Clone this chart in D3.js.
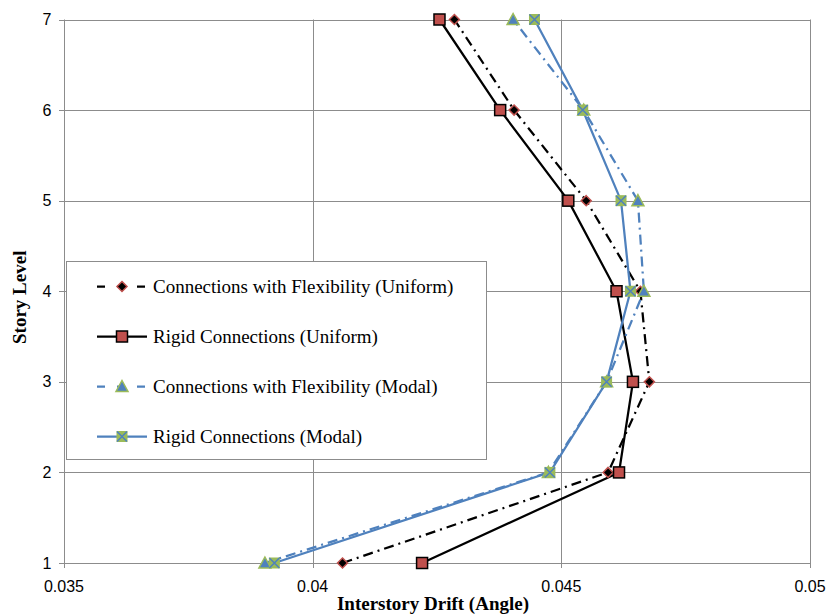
<!DOCTYPE html>
<html>
<head>
<meta charset="utf-8">
<script src="https://cdn.jsdelivr.net/npm/d3@7"></script>
<style>
  body { margin: 0; background: #fff; }
  svg { display: block; }
</style>
</head>
<body>
<div id="chart"></div>
<script>
// story levels and drifts
const stories = [1, 2, 3, 4, 5, 6, 7];
const flexUniform = [0.0406, 0.04594, 0.04677, 0.04659, 0.0455, 0.04405, 0.04285];
const rigidUniform = [0.0422, 0.04616, 0.04644, 0.04611, 0.04514, 0.04377, 0.04255];
const flexModal = [0.03904, 0.04474, 0.04591, 0.04666, 0.04654, 0.04545, 0.04403];
const rigidModal = [0.03923, 0.04477, 0.04591, 0.04639, 0.0462, 0.04543, 0.04446];
const xTicks = [0.035, 0.04, 0.045, 0.05];
const seriesNames = [
    "Connections with Flexibility (Uniform)",
    "Rigid Connections (Uniform)",
    "Connections with Flexibility (Modal)",
    "Rigid Connections (Modal)"
];

const W = 826, H = 614;
const margin = {top: 19.5, right: 16, bottom: 51, left: 64};

const svg = d3.select("#chart").append("svg")
    .attr("width", W).attr("height", H);

const x = d3.scaleLinear().domain([0.035, 0.05]).range([margin.left, W - margin.right]);
const y = d3.scaleLinear().domain([1, 7]).range([H - margin.bottom, margin.top]);

// grid
const grid = svg.append("g").attr("stroke", "#8c8c8c").attr("stroke-width", 1);
grid.selectAll(".hg").data(stories).join("line")
    .attr("x1", x(0.035) - 5).attr("x2", x(0.05))
    .attr("y1", d => Math.round(y(d)) + 0.5).attr("y2", d => Math.round(y(d)) + 0.5);
grid.selectAll(".vg").data(xTicks).join("line")
    .attr("x1", d => Math.round(x(d)) + 0.5).attr("x2", d => Math.round(x(d)) + 0.5)
    .attr("y1", y(7)).attr("y2", y(1) + 5);

// tick labels
svg.append("g").selectAll("text").data(stories).join("text")
    .attr("x", x(0.035) - 17).attr("y", d => y(d) + 5.5)
    .attr("text-anchor", "middle")
    .style("font-family", "Liberation Sans, Arial, sans-serif").style("font-size", "16px")
    .text(d => d);
svg.append("g").selectAll("text").data(xTicks).join("text")
    .attr("x", d => x(d)).attr("y", y(1) + 29)
    .attr("text-anchor", "middle")
    .style("font-family", "Liberation Sans, Arial, sans-serif").style("font-size", "16px")
    .text(d => d);

// axis titles
svg.append("text")
    .attr("x", 433).attr("y", 610)
    .attr("text-anchor", "middle")
    .style("font-family", "Liberation Serif, Times New Roman, serif")
    .style("font-size", "19px").style("font-weight", "bold")
    .text("Interstory Drift (Angle)");
svg.append("text")
    .attr("transform", "translate(26," + (y(4) + 6) + ") rotate(-90)")
    .attr("text-anchor", "middle")
    .style("font-family", "Liberation Serif, Times New Roman, serif")
    .style("font-size", "19px").style("font-weight", "bold")
    .text("Story Level");

const blue = "#4f81bd", red = "#c0504d", green = "#9bbb59";
const series = [
    {values: flexUniform, color: "#000", dash: "10,5,2,5", marker: "diamond"},
    {values: rigidUniform, color: "#000", dash: null, marker: "square"},
    {values: flexModal, color: blue, dash: "10,5,2,5", marker: "triangle"},
    {values: rigidModal, color: blue, dash: null, marker: "xsquare"}
];

const line = d3.line().x(d => x(d[0])).y(d => y(d[1]));

function drawMarker(g, type) {
    if (type === "diamond") {
        g.append("path").attr("d", "M0,-5L5,0L0,5L-5,0Z")
            .attr("fill", "#000").attr("stroke", red).attr("stroke-width", 1.5);
    } else if (type === "square") {
        g.append("rect").attr("x", -5.5).attr("y", -5.5).attr("width", 11).attr("height", 11)
            .attr("fill", red).attr("stroke", "#000").attr("stroke-width", 1.5);
    } else if (type === "triangle") {
        g.append("path").attr("d", "M0,-6L6,5L-6,5Z")
            .attr("fill", blue).attr("stroke", green).attr("stroke-width", 1.5);
    } else {
        g.append("rect").attr("x", -5.5).attr("y", -5.5).attr("width", 11).attr("height", 11)
            .attr("fill", green);
        g.append("path").attr("d", "M-5,-5L5,5M5,-5L-5,5")
            .attr("stroke", blue).attr("stroke-width", 1.5);
    }
}

series.forEach(s => {
    const pts = stories.map((st, i) => [s.values[i], st]);
    svg.append("path").datum(pts)
        .attr("d", line)
        .attr("fill", "none")
        .attr("stroke", s.color)
        .attr("stroke-width", 2.25)
        .attr("stroke-dasharray", s.dash);
});
series.forEach(s => {
    stories.forEach((st, i) => {
        const g = svg.append("g").attr("transform", `translate(${x(s.values[i])},${y(st)})`);
        drawMarker(g, s.marker);
    });
});

// legend
const legend = svg.append("g");
legend.append("rect")
    .attr("x", 66.5).attr("y", 261.5).attr("width", 420).attr("height", 198)
    .attr("fill", "#fff").attr("stroke", "#8c8c8c").attr("stroke-width", 1);
series.forEach((s, i) => {
    const ly = 286.5 + i * 50;
    legend.append("line")
        .attr("x1", 97).attr("x2", 147).attr("y1", ly).attr("y2", ly)
        .attr("stroke", s.color).attr("stroke-width", 2.25)
        .attr("stroke-dasharray", s.dash ? "8,12" : null);
    const g = legend.append("g").attr("transform", `translate(122,${ly})`);
    drawMarker(g, s.marker);
    legend.append("text")
        .attr("x", 153).attr("y", ly + 6)
        .style("font-family", "Liberation Serif, Times New Roman, serif")
        .style("font-size", "19px")
        .text(seriesNames[i]);
});
</script>
</body>
</html>
